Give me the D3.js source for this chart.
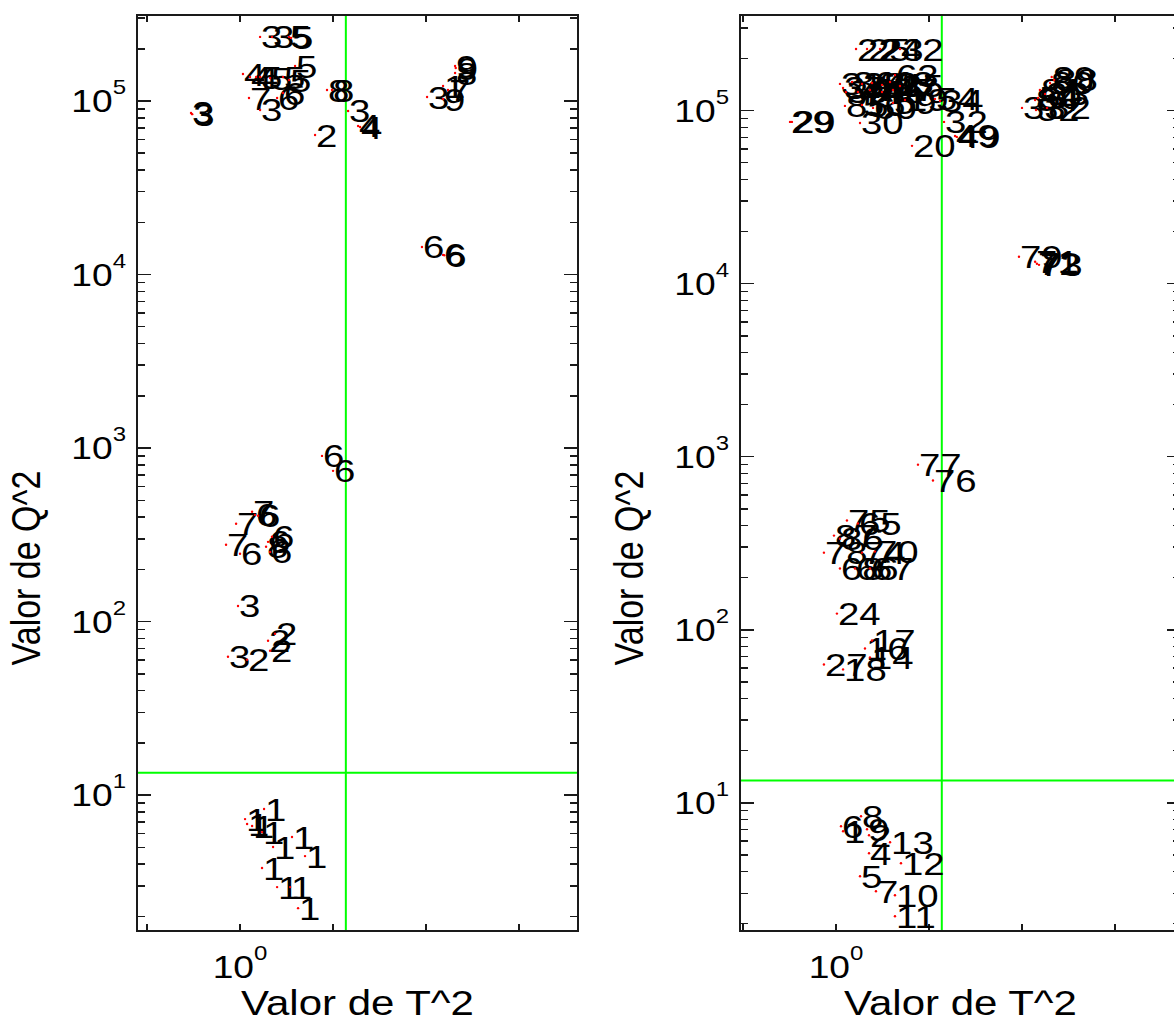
<!DOCTYPE html>
<html>
<head>
<meta charset="utf-8">
<script src="https://cdn.jsdelivr.net/npm/d3@7"></script>
<style>
  body { margin: 0; background: #fff; }
  svg text { font-family: "Liberation Sans", Arial, Helvetica, sans-serif; fill: #000; }
</style>
</head>
<body>
<svg id="chart" width="1174" height="1022"></svg>
<script>
// ---- Left panel: T^2 / Q^2 per sample, labelled by class ----
const leftT2 = [0.694,0.70,1.161,1.269,1.441,1.462,1.507,1.022,1.077,1.127,
  1.161,1.251,1.378,1.441,1.069,1.161,1.318,1.378,1.912,1.985,
  1.749,2.237,2.41,2.446,4.965,4.99,4.965,4.54,4.71,4.03,
  4.54,3.88,4.54,4.58,
  1.842,2.0,1.094,1.118,1.144,0.971,0.901,1.0,1.214,1.232,
  1.269,1.251,0.985,1.232,1.298,0.914,1.054,1.251,
  1.038,1.054,1.094,1.178,1.196,1.473,1.279,1.623,1.178,1.318,1.452,1.541];
const leftQ2 = [85300,84000,234000,234000,234000,231000,159000,143000,137500,137500,
  137500,135700,137500,132100,104000,88800,104000,111200,115700,115700,
  63700,87600,71800,70800,159000,154900,145000,122000,115700,105400,
  102700,14420,12970,12900,
  901,739,429,412,407,366,277,246,270,288,
  308,252,123,77.5,85,62.7,60.3,67.9,
  7.27,6.81,6.63,6.12,8.31,5.73,5.02,4.45,3.80,2.95,2.95,2.23];
const leftLabels = ["3","3","3","3","5","5","5","4","4","4",
  "5","5","5","5","7","3","6","6","8","8",
  "2","3","4","4","9","9","8","1","7","3",
  "9","6","6","6",
  "6","6","7","6","6","7","7","6","8","6",
  "6","6","3","2","2","3","2","2",
  "1","1","1","1","1","1","1","1","1","1","1","1"];

// ---- Right panel: T^2 / Q^2 per sample, labelled by sample number ----
const rightT2 = [0.71,0.72,1.161,1.26,1.388,1.611,1.552,1.030,1.054,1.127,
  1.214,1.308,1.409,1.496,1.611,1.077,1.178,1.288,1.409,1.529,
  1.069,1.318,1.214,1.529,1.672,2.171,2.091,1.196,1.762,2.237,
  2.428,2.46,4.99,4.93,5.08,4.51,4.57,4.75,4.41,4.0,
  4.44,4.82,3.91,4.47,4.54,4.41,1.842,2.06,1.085,1.178,
  0.985,1.03,0.914,1.214,1.337,1.03,1.152,1.288,1.007,1.308,
  1.241,1.288,0.914,1.054,1.205,1.038,1.054,1.26,1.279,1.496,
  1.279,1.623,1.196,1.347,1.552,1.552];
const rightQ2 = [86100,86100,227000,227000,227000,227000,160700,142700,135200,146400,
  142700,144500,140800,146400,138900,128200,128200,131700,128200,131700,
  106500,103700,107900,110800,115300,113800,116900,84900,62600,86100,
  71400,70500,156500,144500,150400,118400,131700,124900,115300,103700,
  100900,103700,14300,13030,12850,13380,900,728,428,411,
  350,336,279,279,283,226,226,226,124,86.7,
  78,69.2,63,59,8.36,7.32,6.85,7.03,6.49,5.91,
  5.11,4.47,3.76,3.08,2.92,2.21];
const rightLabels = ["29","29","22","25","23","42","63","31","37","36",
  "38","40","41","43","35","39","44","45","46","47",
  "85","60","56","59","19","34","54","30","20","32",
  "49","49","89","80","88","50","81","83","84","33",
  "52","82","79","72","73","71","77","76","75","65",
  "87","86","78","74","70","68","66","67","24","17",
  "16","14","27","18","8","6","1","9","2","13",
  "4","12","5","7","10","11"];

// ---- Control limits and axis ticks ----
const t2Limit = 2.2;
const q2Limit = 13.45;
const yTickValues = [10, 100, 1000, 10000, 100000];
const yTickExponents = ["1", "2", "3", "4", "5"];
const xTickValues = [0.5, 1, 2, 4, 8];
const xTickExponents = ["", "0", "", "", ""];
const xTitle = "Valor de T^2";
const yTitle = "Valor de Q^2";

const panels = [
  { t2: leftT2, q2: leftQ2, labels: leftLabels, left: 137, xDomain: [0.464, 12.41], yDomain: [1.647, 3.13e5] },
  { t2: rightT2, q2: rightQ2, labels: rightLabels, left: 740, xDomain: [0.489, 13.08], yDomain: [1.816, 3.57e5] }
];

const svg = d3.select("#chart");
const boxTop = 15, boxBottom = 931, boxWidth = 441;
const stretch = 1.2;   // wide glyph rendering of the plot fonts
const ink = "#1a1a1a";

panels.forEach(p => {
  const x = d3.scaleLog().domain(p.xDomain).range([p.left, p.left + boxWidth]);
  const y = d3.scaleLog().domain(p.yDomain).range([boxBottom, boxTop]);
  const g = svg.append("g");
  const x0 = p.left, x1 = p.left + boxWidth;

  // limit lines
  g.append("line").attr("x1", x(t2Limit)).attr("x2", x(t2Limit))
    .attr("y1", boxTop).attr("y2", boxBottom)
    .attr("stroke", "#00ff00").attr("stroke-width", 2);
  g.append("line").attr("x1", x0).attr("x2", x1)
    .attr("y1", y(q2Limit)).attr("y2", y(q2Limit))
    .attr("stroke", "#00ff00").attr("stroke-width", 2);

  // y ticks: majors at decades, minors at 2..9
  const minor = [];
  for (let e = 0; e <= 5; e++) for (let m = 2; m <= 9; m++) minor.push(m * Math.pow(10, e));
  const yMinor = minor.filter(v => v > p.yDomain[0] && v < p.yDomain[1]);
  const tickG = g.append("g").attr("stroke", ink).attr("stroke-width", 1.5).attr("shape-rendering", "crispEdges");
  yMinor.forEach(v => {
    tickG.append("line").attr("x1", x0).attr("x2", x0 + 8).attr("y1", y(v)).attr("y2", y(v));
    tickG.append("line").attr("x1", x1).attr("x2", x1 - 8).attr("y1", y(v)).attr("y2", y(v));
  });
  yTickValues.forEach(v => {
    tickG.append("line").attr("x1", x0).attr("x2", x0 + 14).attr("y1", y(v)).attr("y2", y(v));
    tickG.append("line").attr("x1", x1).attr("x2", x1 - 14).attr("y1", y(v)).attr("y2", y(v));
  });
  xTickValues.forEach(v => {
    tickG.append("line").attr("x1", x(v)).attr("x2", x(v)).attr("y1", boxTop).attr("y2", boxTop + 7);
    tickG.append("line").attr("x1", x(v)).attr("x2", x(v)).attr("y1", boxBottom).attr("y2", boxBottom - 7);
  });

  // box
  g.append("rect").attr("x", x0).attr("y", boxTop).attr("width", boxWidth).attr("height", boxBottom - boxTop)
    .attr("fill", "none").attr("stroke", ink).attr("stroke-width", 2);

  // y tick labels 10^n
  yTickValues.forEach((v, i) => {
    const t = g.append("text")
      .attr("transform", `translate(${x0 - 11},${y(v) + 11}) scale(${stretch},1)`)
      .attr("text-anchor", "end").attr("font-size", 31);
    t.append("tspan").text("10");
    t.append("tspan").attr("font-size", 20).attr("dy", -18).text(yTickExponents[i]);
  });

  // x tick labels
  xTickValues.forEach((v, i) => {
    if (!xTickExponents[i]) return;
    const t = g.append("text")
      .attr("transform", `translate(${x(v)},${978}) scale(${stretch},1)`)
      .attr("text-anchor", "middle").attr("font-size", 31);
    t.append("tspan").text("10");
    t.append("tspan").attr("font-size", 20).attr("dy", -18).text(xTickExponents[i]);
  });

  // axis titles
  g.append("text")
    .attr("transform", `translate(${(x0 + x1) / 2},${1015}) scale(${stretch},1)`)
    .attr("text-anchor", "middle").attr("font-size", 35).text(xTitle);
  g.append("text")
    .attr("transform", `translate(${x0 - 97},${568}) scale(${stretch},1) rotate(-90)`)
    .attr("text-anchor", "middle").attr("font-size", 34).text(yTitle);

  // point labels, then the point markers on top
  const pts = p.t2.map((v, i) => ({ t: v, q: p.q2[i], lab: p.labels[i] }));
  g.append("g").selectAll("text").data(pts).join("text")
    .attr("transform", d => `translate(${x(d.t) + 1},${y(d.q)}) scale(${stretch},1)`)
    .attr("dy", "0.36em").attr("font-size", 32).text(d => d.lab);
  g.append("g").selectAll("circle").data(pts).join("circle")
    .attr("cx", d => x(d.t)).attr("cy", d => y(d.q)).attr("r", 1.2).attr("fill", "#ff0000");
});
</script>
</body>
</html>
